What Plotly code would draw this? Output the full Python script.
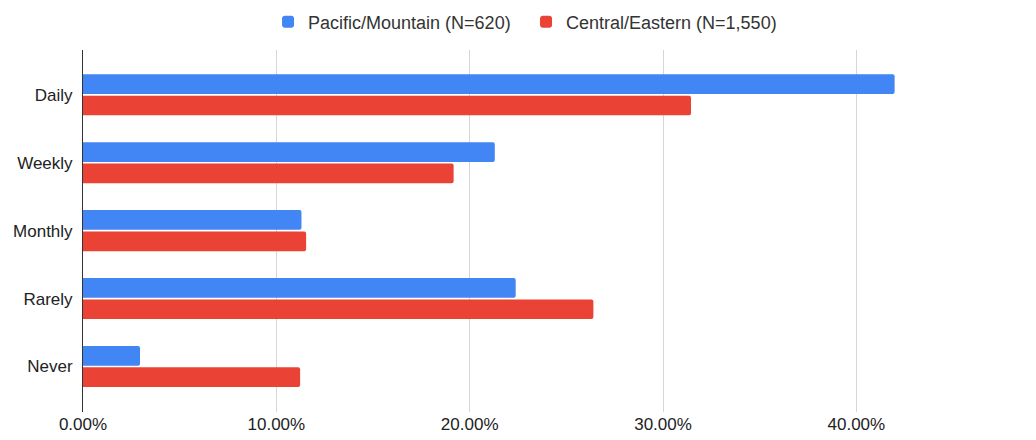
import plotly.graph_objects as go

categories = ["Daily", "Weekly", "Monthly", "Rarely", "Never"]
pacific_mountain = [0.4198, 0.2130, 0.1130, 0.2238, 0.0295]
central_eastern = [0.3145, 0.1917, 0.1154, 0.2640, 0.1123]

series_names = ["Pacific/Mountain (N=620)", "Central/Eastern (N=1,550)"]
colors = ["#4285F4", "#EA4335"]

fig = go.Figure()
for name, vals, col in zip(series_names, [pacific_mountain, central_eastern], colors):
    fig.add_trace(go.Bar(
        y=categories,
        x=vals,
        name=name,
        orientation="h",
        marker=dict(color=col, line=dict(width=0), cornerradius=2),
    ))

# page body adds an 8px margin, so the margins below are shifted to compensate
fig.update_layout(
    width=1036,
    height=440,
    barmode="group",
    bargap=0.37,
    bargroupgap=0.08,
    plot_bgcolor="white",
    paper_bgcolor="white",
    font=dict(family="Liberation Sans, Arial, sans-serif", size=17, color="#222"),
    margin=dict(l=75, r=33, t=42, b=36, autoexpand=False),
    legend=dict(
        orientation="h",
        xref="container", yref="container",
        x=0.251, xanchor="left",
        y=0.968, yanchor="middle",
        font=dict(size=18, color="#333"),
        itemwidth=30,
        entrywidth=213,
        entrywidthmode="pixels",
        traceorder="normal",
    ),
    xaxis=dict(
        range=[0, 0.48],
        tickvals=[0, 0.1, 0.2, 0.3, 0.4],
        tickformat=".2%",
        showgrid=True,
        gridcolor="#d6d6d6",
        gridwidth=1,
        zeroline=False,
        showline=False,
        ticks="",
        automargin=False,
        tickfont=dict(size=17, color="#222"),
    ),
    yaxis=dict(
        categoryorder="array",
        categoryarray=categories,
        range=[4.67, -0.66],
        showline=True,
        linecolor="#333",
        linewidth=1,
        showgrid=False,
        ticks="",
        automargin=False,
        ticklabelstandoff=6,
        tickfont=dict(size=17, color="#222"),
    ),
)

fig.write_html("out.html")
